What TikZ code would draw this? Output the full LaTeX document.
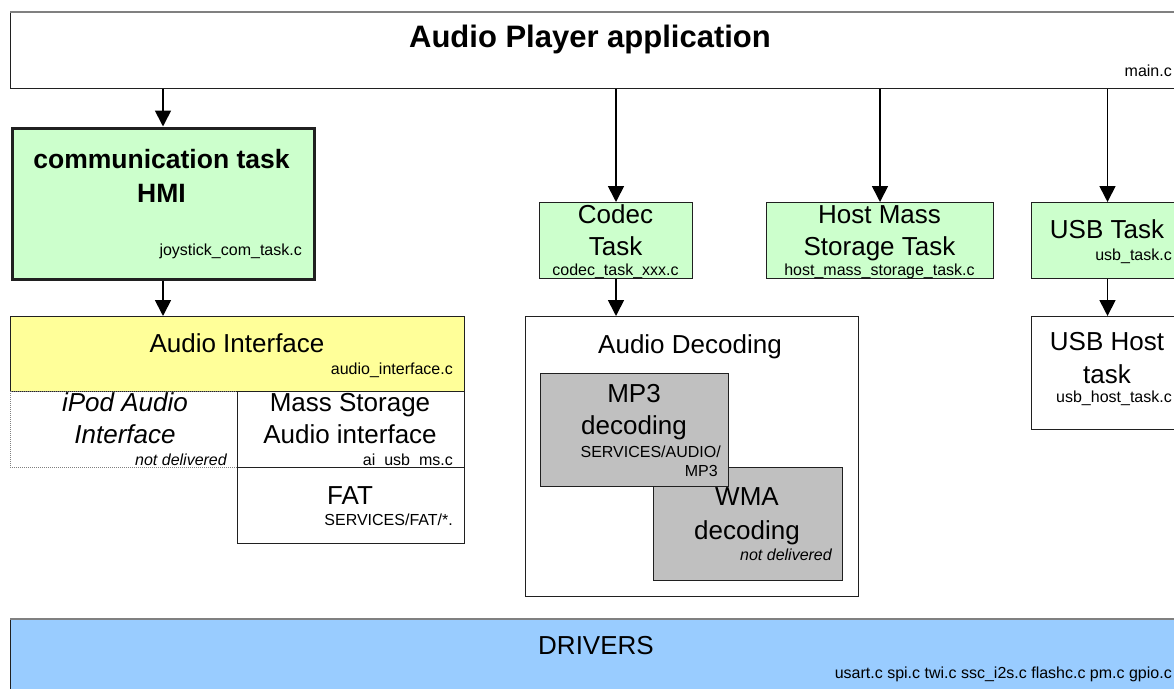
\documentclass[tikz,border=0pt]{standalone}
\usepackage{fontspec}
\setmainfont{Liberation Sans}
\usetikzlibrary{arrows.meta}
\definecolor{taskgreen}{HTML}{CCFFCC}
\definecolor{ifyellow}{HTML}{FFFF99}
\definecolor{drvblue}{HTML}{99CCFF}
\definecolor{decgray}{HTML}{C0C0C0}
\definecolor{edge}{HTML}{202020}
\tikzset{
  box/.style={draw=edge, line width=1pt, rectangle, inner sep=0pt, anchor=north west},
  bigtxt/.style={inner sep=0pt, font=\fontsize{26}{30}\selectfont},
  smalltxt/.style={inner sep=0pt, font=\fontsize{16}{18}\selectfont},
  smallit/.style={inner sep=0pt, font=\fontsize{16}{18}\selectfont\itshape},
  arrow/.style={draw=black, line width=1.7pt, -{Triangle[length=16pt,width=16pt]}},
}
\begin{document}
\begin{tikzpicture}[x=1pt,y=-1pt]
\clip (0,0) rectangle (1174,688);
\fill[white] (0,0) rectangle (1174,688);

% application layer
\node[box, fill=white, minimum width=1180pt, minimum height=76pt] (app) at (10,12) {};
\draw[gray, line width=1.6pt] (app.north west) -- (app.north east);
\node[inner sep=0pt, font=\fontsize{31}{36}\selectfont\bfseries, anchor=base] (apptitle) at (590,47) {Audio Player application};
\node[smalltxt, anchor=base east] (appfile) at (1172,76) {main.c};

% communication task
\node[box, fill=taskgreen, line width=3pt, minimum width=302pt, minimum height=151pt] (comm) at (10.5,126.5) {};
\node[inner sep=0pt, font=\fontsize{26.5}{30}\selectfont\bfseries, anchor=base] (commt1) at (161.5,168) {communication task};
\node[inner sep=0pt, font=\fontsize{26.5}{30}\selectfont\bfseries, anchor=base] (commt2) at (161.5,202) {HMI};
\node[smalltxt, anchor=base east] (commfile) at (302,255) {joystick\_com\_task.c};

% audio interface stack
\node[box, fill=ifyellow, minimum width=454pt, minimum height=75pt] (aif) at (10,316) {};
\node[bigtxt, anchor=base] (aift) at (237,352) {Audio Interface};
\node[smalltxt, anchor=base east] (aiffile) at (453,374) {audio\_interface.c};

\node[box, draw=gray, line width=0.8pt, dash pattern=on 1pt off 1pt, minimum width=227pt, minimum height=76pt] (ipod) at (10,391) {};
\node[bigtxt, font=\fontsize{26}{30}\selectfont\itshape, anchor=base] (ipodt1) at (125,411) {iPod Audio};
\node[bigtxt, font=\fontsize{26}{30}\selectfont\itshape, anchor=base] (ipodt2) at (125,443) {Interface};
\node[smallit, anchor=base east] (ipodnote) at (227,465) {not delivered};

\node[box, fill=white, minimum width=227pt, minimum height=76pt] (msai) at (237,391) {};
\node[bigtxt, anchor=base] (msait1) at (350,411) {Mass Storage};
\node[bigtxt, anchor=base] (msait2) at (350,443) {Audio interface};
\node[smalltxt, anchor=base east] (msaifile) at (453,465) {ai\_usb\_ms.c};

\node[box, fill=white, minimum width=227pt, minimum height=76pt] (fat) at (237,467) {};
\node[bigtxt, anchor=base] (fatt) at (350,504) {FAT};
\node[smalltxt, anchor=base east] (fatfile) at (453,525) {SERVICES/FAT/*.};

% codec task and decoding
\node[box, fill=taskgreen, minimum width=153pt, minimum height=76pt] (codec) at (539,202) {};
\node[bigtxt, anchor=base] (codect1) at (615.5,223) {Codec};
\node[bigtxt, anchor=base] (codect2) at (615.5,255) {Task};
\node[smalltxt, anchor=base] (codecfile) at (615.5,275) {codec\_task\_xxx.c};

\node[box, fill=white, minimum width=333pt, minimum height=280pt] (dec) at (525,316) {};
\node[bigtxt, anchor=base] (dect) at (690,353) {Audio Decoding};

\node[box, fill=decgray, minimum width=189pt, minimum height=113pt] (wma) at (653,467) {};
\node[bigtxt, anchor=base] (wmat1) at (747,505) {WMA};
\node[bigtxt, anchor=base] (wmat2) at (747,539) {decoding};
\node[smallit, anchor=base east] (wmanote) at (832,560) {not delivered};

\node[box, fill=decgray, minimum width=188pt, minimum height=113pt] (mp3) at (540,373) {};
\node[bigtxt, anchor=base] (mp3t1) at (634,402) {MP3};
\node[bigtxt, anchor=base] (mp3t2) at (634,434) {decoding};
\node[smalltxt, anchor=base east] (mp3file1) at (721,457) {SERVICES/AUDIO/};
\node[smalltxt, anchor=base east] (mp3file2) at (718,476) {MP3};

% host mass storage task
\node[box, fill=taskgreen, minimum width=227pt, minimum height=76pt] (hms) at (766,202) {};
\node[bigtxt, anchor=base] (hmst1) at (879.5,223) {Host Mass};
\node[bigtxt, anchor=base] (hmst2) at (879.5,255) {Storage Task};
\node[smalltxt, anchor=base] (hmsfile) at (879.5,275) {host\_mass\_storage\_task.c};

% usb task and usb host task
\node[box, fill=taskgreen, minimum width=152pt, minimum height=76pt] (usb) at (1031,202) {};
\node[bigtxt, anchor=base] (usbt) at (1107,238) {USB Task};
\node[smalltxt, anchor=base east] (usbfile) at (1172,260) {usb\_task.c};

\node[box, fill=white, minimum width=152pt, minimum height=113pt] (usbh) at (1031,316) {};
\node[bigtxt, anchor=base] (usbht1) at (1107,350) {USB Host};
\node[bigtxt, anchor=base] (usbht2) at (1107,383) {task};
\node[smalltxt, anchor=base east] (usbhfile) at (1172,402) {usb\_host\_task.c};

% drivers layer
\node[box, fill=drvblue, minimum width=1180pt, minimum height=90pt] (drv) at (10,619) {};
\draw[gray, line width=1.6pt] (drv.north west) -- (drv.north east);
\node[bigtxt, anchor=base] (drvt) at (596,654) {DRIVERS};
\node[smalltxt, anchor=base east] (drvfile) at (1172,678) {usart.c spi.c twi.c ssc\_i2s.c flashc.c pm.c gpio.c};

% calls between the layers
\draw[arrow] (app.south -| comm.north) -- (comm.north);
\draw[arrow] (comm.south) -- (aif.north -| comm.south);
\draw[arrow] (app.south -| codec.north) -- (codec.north);
\draw[arrow] (codec.south) -- (dec.north -| codec.south);
\draw[arrow] (app.south -| hms.north) -- (hms.north);
\draw[arrow] (app.south -| usb.north) -- (usb.north);
\draw[arrow] (usb.south) -- (usbh.north);
\end{tikzpicture}
\end{document}
